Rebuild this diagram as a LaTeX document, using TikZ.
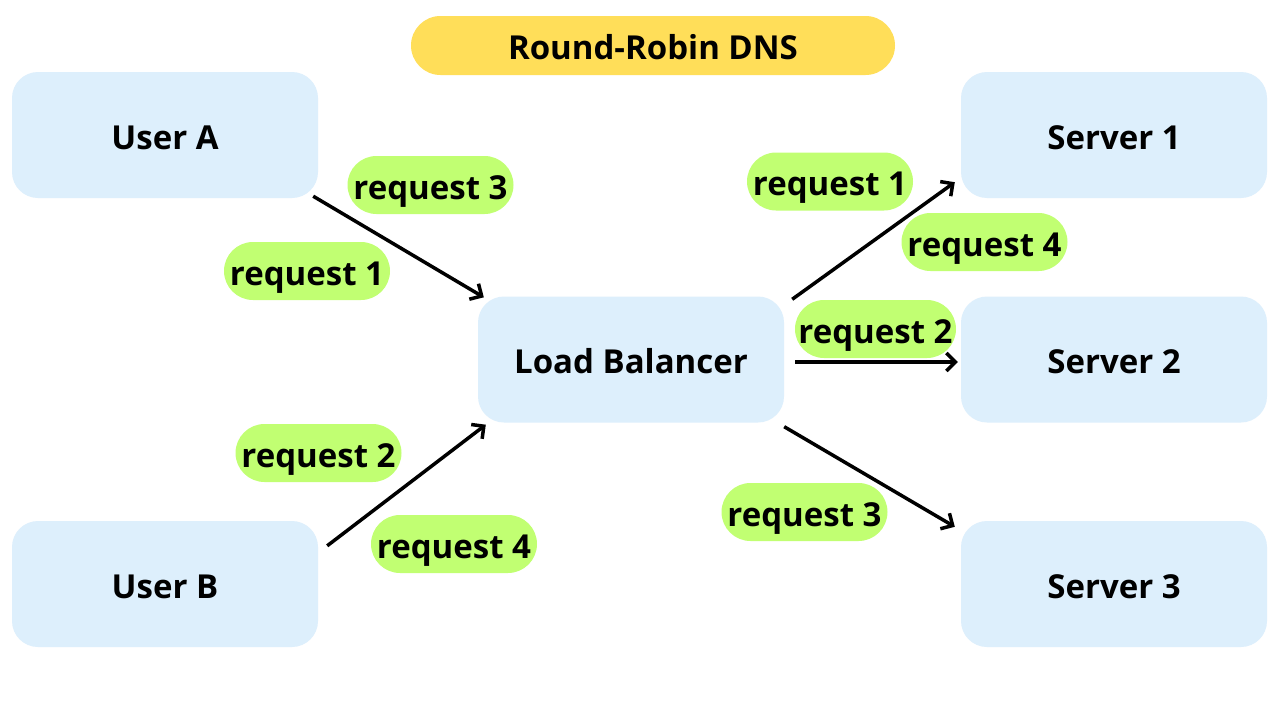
\documentclass[tikz,border=0pt]{standalone}
\usepackage{fontspec}
\setmainfont{Open Sans}[BoldFont={Open Sans Bold}]
\usetikzlibrary{arrows.meta,calc}
\definecolor{boxblue}{HTML}{DDEFFC}
\definecolor{tagreen}{HTML}{C1FF72}
\definecolor{titleyellow}{HTML}{FFDE59}
\tikzset{
  x=1pt,y=-1pt,
  lbl/.style={font=\bfseries\fontsize{33}{38}\selectfont,text depth=0pt,text height=28.5pt},
  bigbox/.style={lbl,fill=boxblue,rounded corners=26pt,minimum width=306pt,minimum height=126pt,inner sep=0pt},
  tag/.style={lbl,fill=tagreen,rounded corners=29pt,minimum width=166pt,minimum height=58pt,inner sep=0pt},
  conn/.style={line width=3.5pt,-{Straight Barb[length=9pt,width=18pt,line width=3.5pt]}},
}
\begin{document}
\begin{tikzpicture}
\useasboundingbox (0,0) rectangle (1280,720);
\fill[white] (0,0) rectangle (1280,720);
\node[lbl,fill=titleyellow,rounded corners=29.5pt,minimum width=484pt,minimum height=59pt,inner sep=0pt] (title) at (653,45.5) {Round-Robin DNS};
\node[bigbox] (ua) at (165,135) {User A};
\node[bigbox] (ub) at (165,584) {User B};
\node[bigbox] (lb) at (631,359.5) {Load Balancer};
\node[bigbox] (s1) at (1114,135) {Server 1};
\node[bigbox] (s2) at (1114,359.5) {Server 2};
\node[bigbox] (s3) at (1114,584) {Server 3};
\node[tag] (t1) at (430.5,185) {request 3};
\node[tag] (t2) at (307,271) {request 1};
\node[tag] (t3) at (318.5,453) {request 2};
\node[tag] (t4) at (454,544) {request 4};
\node[tag] (t5) at (830,181.5) {request 1};
\node[tag] (t6) at (984.5,242) {request 4};
\node[tag,minimum width=161pt] (t7) at (875.5,329) {request 2};
\node[tag] (t8) at (804.5,512) {request 3};
\draw[conn] ($(ua.south east)+(-5,-2)$) -- ($(lb.north west)+(6,1)$);
\draw[conn] ($(ub.north east)+(9,25)$) -- ($(lb.south west)+(8,2)$);
\draw[conn] ($(lb.north east)+(8,3)$) -- ($(s1.south west)+(-6,-16)$);
\draw[conn] ($(lb.east)+(11,2.5)$) -- ($(s2.west)+(-3,2.5)$);
\draw[conn] ($(lb.south east)+(0,4)$) -- ($(s3.north west)+(-6,6)$);
\end{tikzpicture}
\end{document}
